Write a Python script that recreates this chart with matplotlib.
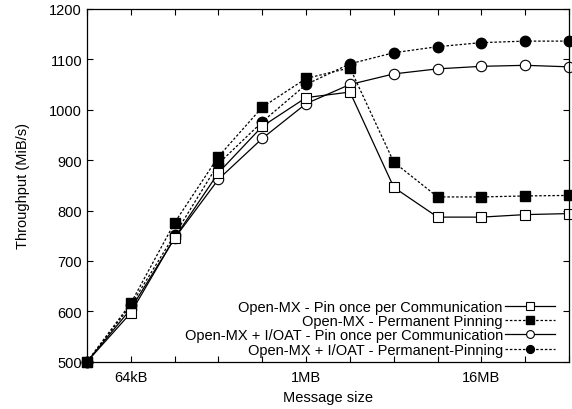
import numpy as np
import matplotlib.pyplot as plt

plt.rcParams['font.family'] = ['Liberation Sans', 'DejaVu Sans']

# message sizes in kB (32kB .. 64MB)
sizes_kb = [32, 64, 128, 256, 512, 1024, 2048, 4096, 8192, 16384, 32768, 65536]

pin_once = [500, 597, 746, 875, 967, 1024, 1035, 846, 787, 787, 792, 794]
permanent = [500, 616, 776, 907, 1005, 1062, 1083, 896, 827, 827, 829, 830]
ioat_pin_once = [500, 605, 745, 862, 943, 1012, 1050, 1071, 1081, 1086, 1088, 1085]
ioat_permanent = [500, 612, 752, 893, 976, 1050, 1091, 1113, 1125, 1133, 1136, 1136]

labels = ['Open-MX - Pin once per Communication',
          'Open-MX - Permanent Pinning',
          'Open-MX + I/OAT - Pin once per Communication',
          'Open-MX + I/OAT - Permanent-Pinning']

tick_labels = {64: '64kB', 1024: '1MB', 16384: '16MB'}

fig = plt.figure(figsize=(5.72, 4.10), dpi=100)
ax = fig.add_axes([0.152, 0.115, 0.843, 0.861])

dash = (0, (2.0, 1.5))
fs = 10.5
ax.plot(sizes_kb, ioat_pin_once, '-', color='k', lw=0.9, marker='o', ms=7.5,
        mfc='white', mec='k', mew=0.8, label=labels[2], clip_on=False)
ax.plot(sizes_kb, ioat_permanent, linestyle=dash, color='k', lw=0.9, marker='o', ms=7.5,
        mfc='k', mec='k', label=labels[3], clip_on=False)
ax.plot(sizes_kb, pin_once, '-', color='k', lw=0.9, marker='s', ms=7,
        mfc='white', mec='k', mew=0.8, label=labels[0], clip_on=False)
ax.plot(sizes_kb, permanent, linestyle=dash, color='k', lw=0.9, marker='s', ms=7,
        mfc='k', mec='k', label=labels[1], clip_on=False)

ax.set_xscale('log', base=2)
ax.set_xlim(32, 65536)
ax.set_ylim(500, 1200)
ax.set_xticks(sizes_kb)
ax.set_xticklabels([tick_labels.get(s, '') for s in sizes_kb])
ax.minorticks_off()
ax.set_yticks(np.arange(500, 1201, 100))
ax.tick_params(direction='in', top=True, right=True, labelsize=fs, length=4, width=0.8)
ax.tick_params(axis='x', pad=6)
for s in ax.spines.values():
    s.set_linewidth(0.9)

ax.set_xlabel('Message size', fontsize=fs)
ax.set_ylabel('Throughput (MiB/s)', fontsize=fs, labelpad=14)

handles, labs = ax.get_legend_handles_labels()
order = [2, 3, 0, 1]
ax.legend([handles[i] for i in order], [labs[i] for i in order],
          loc='lower right', frameon=False, markerfirst=False, fontsize=fs,
          handlelength=3.4, handletextpad=0.15, labelspacing=0.02,
          markerscale=0.75, borderaxespad=0.0, bbox_to_anchor=(0.982, -0.002))

plt.savefig('out.png', dpi=100)
